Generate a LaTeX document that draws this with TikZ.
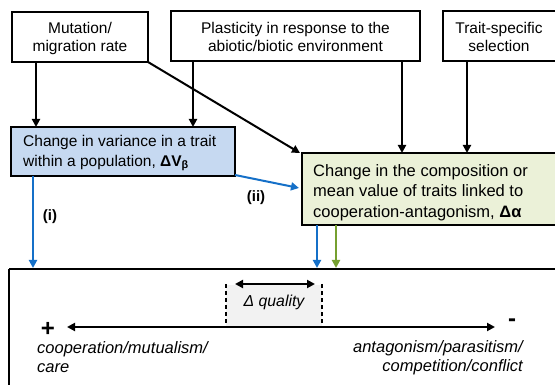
\documentclass[tikz,border=0pt]{standalone}
\usepackage{fontspec}
\setmainfont{Liberation Sans}
\usetikzlibrary{arrows.meta}
\definecolor{bluefill}{HTML}{C6D9F1}
\definecolor{greenfill}{HTML}{EBF1D8}
\definecolor{arrblue}{HTML}{1570C8}
\definecolor{arrgreen}{HTML}{76A030}
\definecolor{qfill}{HTML}{F2F2F2}
\tikzset{
  boxline/.style={draw=black, line width=2.2pt},
  topbox/.style={boxline, fill=white},
  conn/.style={line width=2pt, -{Triangle[length=8pt,width=8pt]}},
  bconn/.style={conn, draw=arrblue, fill=arrblue},
  gconn/.style={conn, draw=arrgreen, fill=arrgreen},
  ttxt/.style={font=\fontsize{15.5}{18}\selectfont, inner sep=0pt},
  btxt/.style={font=\fontsize{15.5}{20}\selectfont, inner sep=0pt},
  gtxt/.style={font=\fontsize{16.5}{20.5}\selectfont, inner sep=0pt},
  itxt/.style={font=\fontsize{16.5}{19}\selectfont\itshape, inner sep=0pt},
  lbl/.style={font=\fontsize{15}{17}\selectfont\bfseries, inner sep=0pt},
  dashl/.style={line width=1.5pt, dash pattern=on 4pt off 3pt},
  dbl/.style={line width=2pt, {Triangle[length=8pt,width=8pt]}-{Triangle[length=8pt,width=8pt]}},
}
\begin{document}
\begin{tikzpicture}[x=1pt,y=-1pt]
\useasboundingbox (0,0) rectangle (555,385);
% top boxes
\draw[topbox] (12,12) rectangle (148,62);
\node[ttxt, align=center] (mut) at (80,38) {Mutation/\\migration rate};
\coordinate (mutA) at (36,62);
\coordinate (mutC) at (148,62);
\draw[topbox] (171,11) rectangle (420,61);
\node[ttxt, align=center] (pla) at (295.5,37) {Plasticity in response to the\\abiotic/biotic environment};
\coordinate (plaA) at (193,61);
\coordinate (plaB) at (402,61);
\draw[topbox] (443,11) rectangle (557,61);
\node[ttxt, align=center] (sel) at (499,37) {Trait-specific\\selection};
\coordinate (selA) at (467,61);
% blue box
\draw[boxline, fill=bluefill] (11,127) rectangle (235,176);
\node[btxt, align=left, anchor=west] (var) at (23,153) {Change in variance in a trait\\within a population, \textbf{ΔV}\textsubscript{\textbf{β}}};
\coordinate (varT1) at (36,127);
\coordinate (varT2) at (193,127);
\coordinate (varB) at (33,176);
\coordinate (varR) at (235,175);
% green box
\draw[boxline, fill=greenfill] (302,153) rectangle (557,225);
\node[gtxt, align=left, anchor=west] (com) at (313,192.5) {Change in the composition or\\mean value of traits linked to\\cooperation-antagonism, \textbf{Δα}};
\coordinate (comTL) at (300,153);
\coordinate (comL) at (299,188);
\coordinate (comT1) at (402,153);
\coordinate (comT2) at (467,153);
\coordinate (comB1) at (317,225);
\coordinate (comB2) at (336,225);
% bottom box
\draw[boxline, fill=white] (9,269) -- (557,269) (9,269) -- (9,390);
\coordinate (botA) at (33,268);
\coordinate (botB) at (317,268);
\coordinate (botC) at (336,268);
% connectors
\draw[conn] (mutA) -- (varT1);
\draw[conn] (plaA) -- (varT2);
\draw[conn] (mutC) -- (comTL);
\draw[conn] (plaB) -- (comT1);
\draw[conn] (selA) -- (comT2);
\draw[bconn] (varR) -- (comL);
\draw[bconn] (varB) -- (botA);
\draw[bconn] (comB1) -- (botB);
\draw[gconn] (comB2) -- (botC);
\node[lbl] (ii) at (256,198) {(ii)};
\node[lbl] (i) at (50,217) {(i)};
% quality region
\fill[qfill] (226,285) rectangle (322,327);
\draw[dashl] (226,284) coordinate (dq1) -- (226,327);
\draw[dashl] (322,284) coordinate (dq2) -- (322,327);
\coordinate (qa) at (235,284);
\coordinate (qb) at (315,284);
\draw[dbl] (qa) -- (qb);
\node[font=\fontsize{15.8}{18}\selectfont\itshape, inner sep=0pt] (dq) at (274,302) {Δ quality};
% axis
\coordinate (axL) at (67,327);
\coordinate (axR) at (495,327);
\draw[dbl] (axL) -- (axR);
\node[font=\fontsize{24}{24}\selectfont\bfseries, inner sep=0pt] (plus) at (48,329) {+};
\node[font=\fontsize{24}{24}\selectfont\bfseries, inner sep=0pt] (minus) at (512,323) {-};
\node[itxt, align=left, anchor=west] (coop) at (37,357.5) {cooperation/mutualism/\\care};
\node[itxt, align=right, anchor=east] (ant) at (523,357.5) {antagonism/parasitism/\\competition/conflict};
\end{tikzpicture}
\end{document}
